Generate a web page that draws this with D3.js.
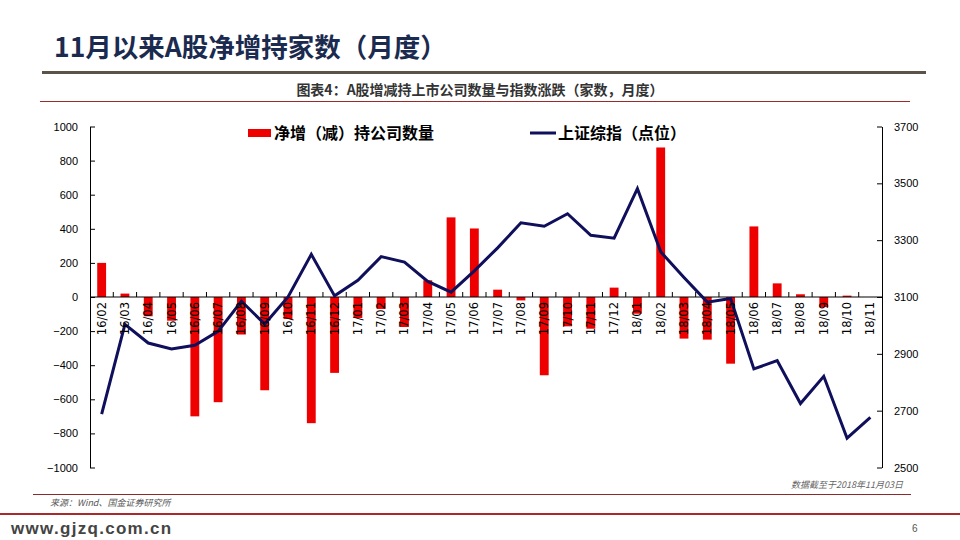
<!DOCTYPE html>
<html>
<head>
<meta charset="utf-8">
<script src="https://cdn.jsdelivr.net/npm/d3@7"></script>
<style>
  body { margin: 0; background: #fff; }
  text { font-family: "Liberation Sans", Arial, "Noto Sans CJK SC", sans-serif; }
  .cjk { font-family: "Noto Sans CJK SC", sans-serif; }
</style>
</head>
<body>
<div id="chart"></div>
<script>
// months 16/02 .. 18/11
var months = ["16/02","16/03","16/04","16/05","16/06","16/07","16/08","16/09","16/10","16/11","16/12",
  "17/01","17/02","17/03","17/04","17/05","17/06","17/07","17/08","17/09","17/10","17/11","17/12",
  "18/01","18/02","18/03","18/04","18/05","18/06","18/07","18/08","18/09","18/10","18/11"];

// net increase (decrease) of holding companies
var netCount = [200, 20, -113, -139, -700, -617, -220, -547, -129, -740, -445,
  -123, -70, -176, 98, 467, 402, 43, -20, -459, -172, -186, 55,
  -98, 877, -244, -250, -391, 414, 80, 16, -59, 8, 0];

// Shanghai composite, month end
var shIndex = [2688, 3004, 2938, 2917, 2930, 2979, 3085, 3005, 3100, 3250, 3104,
  3159, 3242, 3223, 3155, 3117, 3192, 3273, 3361, 3349, 3393, 3317, 3307,
  3481, 3259, 3169, 3082, 3095, 2847, 2876, 2725, 2821, 2603, 2676];

var leftTicks = [-1000, -800, -600, -400, -200, 0, 200, 400, 600, 800, 1000];
var rightTicks = [2500, 2700, 2900, 3100, 3300, 3500, 3700];

var W = 960, H = 540;
var plotL = 90, plotR = 882, plotT = 126.5, plotB = 467.5;

var svg = d3.select("#chart").append("svg")
    .attr("width", W)
    .attr("height", H);

// header
svg.append("text")
    .attr("class", "cjk")
    .attr("x", 54).attr("y", 57)
    .style("font-size", "26.5px")
    .style("font-weight", "bold")
    .style("fill", "#1b2a4f")
    .text("11月以来A股净增持家数（月度）");

svg.append("rect").attr("x", 42).attr("y", 71).attr("width", 884).attr("height", 3).attr("fill", "#5b524a");

svg.append("text")
    .attr("class", "cjk")
    .attr("x", 480).attr("y", 95)
    .style("text-anchor", "middle")
    .style("font-size", "14px")
    .style("font-weight", "bold")
    .style("fill", "#333")
    .text("图表4：A股增减持上市公司数量与指数涨跌（家数，月度）");

svg.append("rect").attr("x", 40).attr("y", 101).attr("width", 870).attr("height", 1).attr("fill", "#9b2b2b");

// scales
var x = d3.scaleBand().domain(months).range([plotL, plotR]).paddingInner(0.62).paddingOuter(0.31);
var xStep = d3.scaleBand().domain(months).range([plotL, plotR]);
var yL = d3.scaleLinear().domain([-1000, 1000]).range([plotB, plotT]);
var yR = d3.scaleLinear().domain([2500, 3700]).range([plotB, plotT]);

// axes
var axL = svg.append("g")
    .attr("transform", `translate(${plotL},0)`)
    .call(d3.axisLeft(yL).tickValues(leftTicks).tickFormat(d3.format("d")).tickSizeInner(-5).tickSizeOuter(0).tickPadding(12));
var axR = svg.append("g")
    .attr("transform", `translate(${plotR},0)`)
    .call(d3.axisRight(yR).tickValues(rightTicks).tickFormat(d3.format("d")).tickSizeInner(-5).tickSizeOuter(0).tickPadding(12));
[axL, axR].forEach(function(g) {
  g.selectAll("text").style("font-size", "11px").style("fill", "#000");
  g.selectAll("line, path").attr("stroke", "#000");
});

// bars
svg.append("g").selectAll("rect")
    .data(netCount)
    .enter()
    .append("rect")
    .attr("fill", "#ee0000")
    .attr("x", function(d, i) { return x(months[i]); })
    .attr("y", function(d) { return yL(Math.max(0, d)); })
    .attr("width", x.bandwidth())
    .attr("height", function(d) { return Math.abs(yL(d) - yL(0)); });

// category axis on zero line
var zeroY = yL(0);
svg.append("line")
    .attr("x1", plotL).attr("x2", plotR)
    .attr("y1", zeroY).attr("y2", zeroY)
    .attr("stroke", "#000");
svg.append("g").selectAll("line")
    .data(months.slice(1))
    .enter()
    .append("line")
    .attr("x1", function(d) { return xStep(d); })
    .attr("x2", function(d) { return xStep(d); })
    .attr("y1", zeroY).attr("y2", zeroY - 5)
    .attr("stroke", "#000");

// index line
var line = d3.line()
    .x(function(d, i) { return x(months[i]) + x.bandwidth() / 2; })
    .y(function(d) { return yR(d); });

svg.append("path")
    .datum(shIndex)
    .attr("d", line)
    .attr("fill", "none")
    .attr("stroke", "#0f0f5c")
    .attr("stroke-width", 3);

svg.append("g").selectAll("text")
    .data(months)
    .enter()
    .append("text")
    .attr("transform", function(d) {
      return `translate(${x(d) + x.bandwidth() / 2 + 4}, ${zeroY + 5}) rotate(-90)`;
    })
    .style("text-anchor", "end")
    .style("font-family", "'DejaVu Sans', sans-serif")
    .style("font-size", "11.5px")
    .style("fill", "#000")
    .text(function(d) { return d; });

// legend
svg.append("rect").attr("x", 248).attr("y", 129).attr("width", 23).attr("height", 8).attr("fill", "#ee0000");
svg.append("text").attr("class", "cjk")
    .attr("x", 274).attr("y", 139)
    .style("font-size", "16px").style("font-weight", "bold")
    .text("净增（减）持公司数量");
svg.append("line").attr("x1", 530).attr("x2", 556).attr("y1", 133).attr("y2", 133)
    .attr("stroke", "#0f0f5c").attr("stroke-width", 3);
svg.append("text").attr("class", "cjk")
    .attr("x", 558).attr("y", 139)
    .style("font-size", "16px").style("font-weight", "bold")
    .text("上证综指（点位）");

// footer
svg.append("text").attr("class", "cjk")
    .attr("x", 903).attr("y", 488)
    .style("text-anchor", "end")
    .style("font-size", "9px").style("font-style", "italic").style("fill", "#666")
    .text("数据截至于2018年11月03日");
svg.append("rect").attr("x", 33).attr("y", 494).attr("width", 878).attr("height", 1).attr("fill", "#8b2a2a");
svg.append("text").attr("class", "cjk")
    .attr("x", 50).attr("y", 506)
    .style("font-size", "9px").style("font-style", "italic").style("fill", "#555")
    .text("来源：Wind、国金证券研究所");
svg.append("rect").attr("x", 0).attr("y", 513).attr("width", 960).attr("height", 2).attr("fill", "#a8282c");
svg.append("text")
    .attr("x", 11).attr("y", 534)
    .style("font-size", "17px").style("font-weight", "bold").style("fill", "#444")
    .style("letter-spacing", "1.3px")
    .text("www.gjzq.com.cn");
svg.append("text")
    .attr("x", 912).attr("y", 532)
    .style("font-size", "10px").style("fill", "#555")
    .text("6");
</script>
</body>
</html>
